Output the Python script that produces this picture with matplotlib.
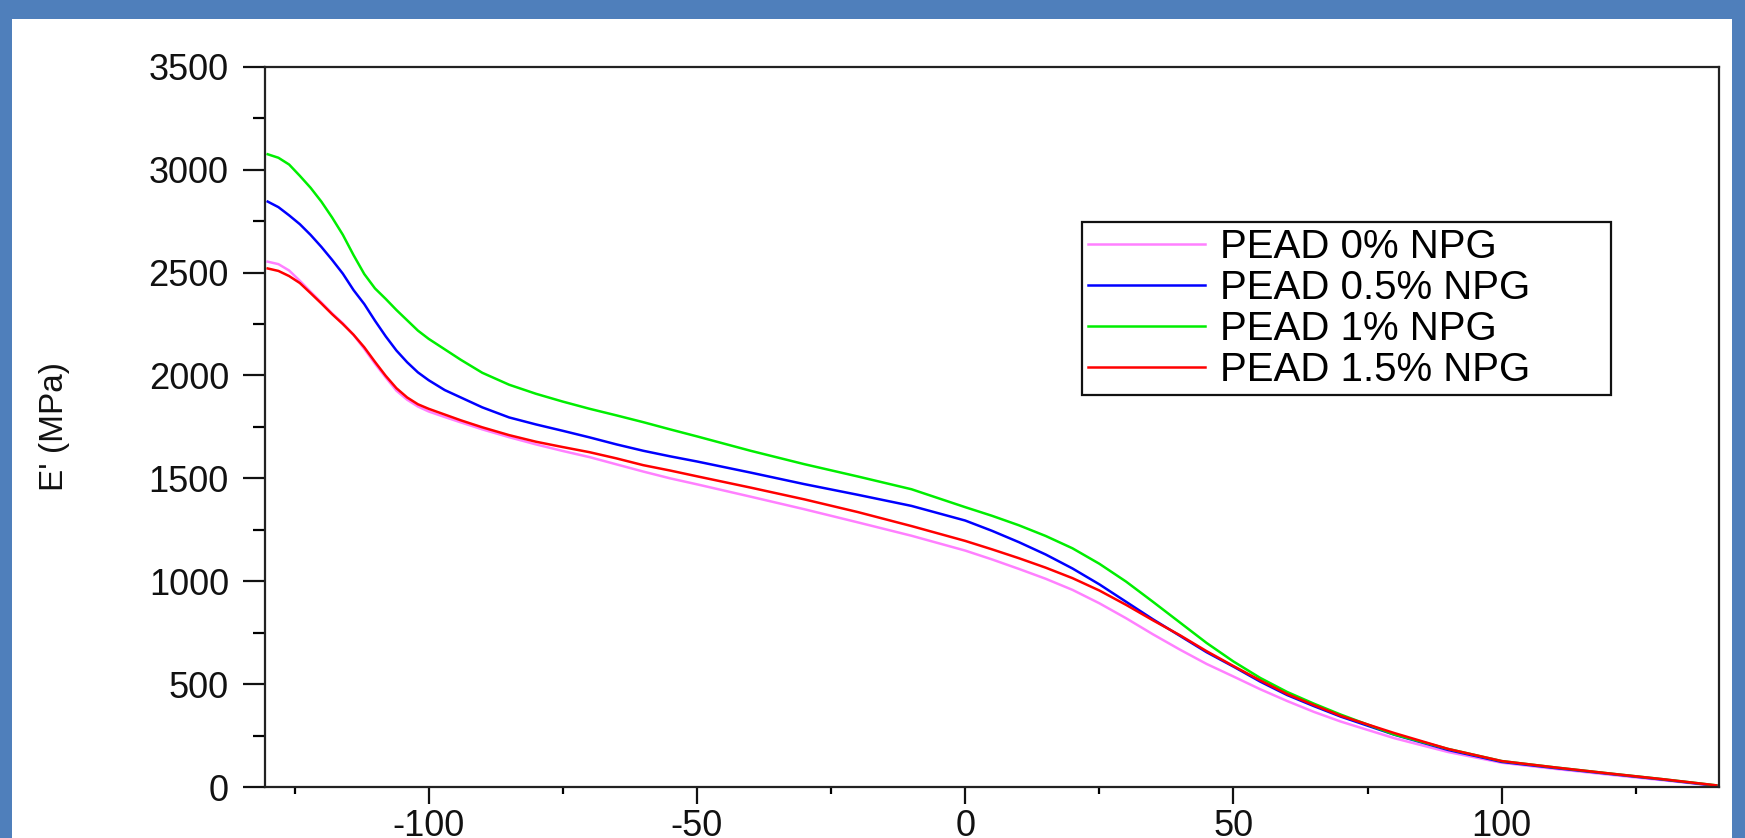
#!/usr/bin/env python3
"""Storage modulus E' vs temperature for PEAD with NPG loadings."""
import matplotlib
matplotlib.use("Agg")
import matplotlib.pyplot as plt
from matplotlib.patches import Rectangle
from matplotlib.ticker import MultipleLocator

plt.rcParams["font.family"] = ["Liberation Sans", "DejaVu Sans"]
plt.rcParams["axes.unicode_minus"] = False

# temperature (°C)
TEMP = [-130, -128, -126, -124, -122, -120, -118, -116, -114, -112, -110,
        -108, -106, -104, -102, -100, -97, -94, -90, -85, -80, -75, -70,
        -65, -60, -55, -50, -40, -30, -20, -10, 0, 5, 10, 15, 20, 25, 30,
        35, 40, 45, 50, 55, 60, 65, 70, 80, 90, 100, 110, 120, 130, 140]

# E' (MPa)
E_0 = [2553, 2541, 2510, 2460, 2407, 2355, 2302, 2254, 2197, 2129, 2057,
       1990, 1926, 1882, 1849, 1825, 1798, 1772, 1738, 1700, 1665, 1633, 1603,
       1568, 1533, 1500, 1471, 1411, 1350, 1286, 1221, 1149, 1106, 1060, 1012,
       958, 893, 820, 742, 668, 598, 537, 475, 418, 365, 318, 237, 170, 118,
       88, 60, 33, 5]
E_05 = [2845, 2818, 2778, 2735, 2683, 2625, 2562, 2495, 2415, 2347, 2266,
        2190, 2121, 2064, 2015, 1977, 1929, 1893, 1845, 1796, 1762, 1731, 1699,
        1665, 1634, 1607, 1582, 1528, 1472, 1420, 1366, 1295, 1245, 1190, 1130,
        1062, 985, 900, 815, 735, 655, 585, 512, 447, 393, 342, 254, 180, 122,
        92, 64, 36, 6]
E_1 = [3075, 3058, 3025, 2970, 2912, 2845, 2768, 2684, 2585, 2493, 2423,
       2372, 2318, 2268, 2218, 2178, 2127, 2076, 2013, 1955, 1911, 1873, 1838,
       1806, 1773, 1738, 1704, 1634, 1569, 1509, 1447, 1360, 1318, 1272, 1220,
       1160, 1085, 998, 900, 800, 700, 610, 530, 462, 405, 352, 255, 185, 126,
       95, 66, 38, 8]
E_15 = [2520, 2508, 2483, 2449, 2400, 2350, 2298, 2250, 2198, 2137, 2066,
        1998, 1938, 1893, 1860, 1838, 1810, 1782, 1748, 1710, 1678, 1652, 1627,
        1597, 1564, 1538, 1510, 1455, 1398, 1336, 1268, 1196, 1155, 1112, 1066,
        1015, 955, 885, 810, 738, 660, 588, 518, 452, 398, 346, 262, 185, 126,
        95, 66, 38, 8]

SERIES = [E_0, E_05, E_1, E_15]
LABELS = ["PEAD 0% NPG", "PEAD 0.5% NPG", "PEAD 1% NPG", "PEAD 1.5% NPG"]
COLORS = ["#ff80ff", "#0000ff", "#00ee00", "#ff0000"]


def main():
    fig = plt.figure(figsize=(17.45, 8.38), dpi=100)
    fig.patch.set_facecolor("#4f7fbb")
    # white panel inside the blue frame (drawn behind the axes)
    fig.patches.append(Rectangle((12 / 1745, 0), 1720 / 1745, 819 / 838,
                                 transform=fig.transFigure, facecolor="white",
                                 edgecolor="none", zorder=-10))

    ax = fig.add_axes([265 / 1745, 51 / 838, 1454 / 1745, 720.2 / 838])
    ax.set_zorder(5)
    for y, lab, col in zip(SERIES, LABELS, COLORS):
        ax.plot(TEMP, y, color=col, lw=1.8, label=lab)

    ax.set_xlim(-130.5, 140.5)
    ax.set_ylim(0, 3500)
    ax.xaxis.set_major_locator(MultipleLocator(50))
    ax.xaxis.set_minor_locator(MultipleLocator(25))
    ax.yaxis.set_major_locator(MultipleLocator(500))
    ax.yaxis.set_minor_locator(MultipleLocator(250))

    ax.tick_params(axis="y", which="major", direction="out", length=16,
                   width=1.6, pad=10, labelsize=26, colors="#111111")
    ax.tick_params(axis="y", which="minor", direction="out", length=8.5,
                   width=1.6)
    ax.tick_params(axis="x", which="major", direction="out", length=12,
                   width=1.6, pad=4, labelsize=26, colors="#111111")
    ax.tick_params(axis="x", which="minor", direction="out", length=5,
                   width=1.6)
    for s in ax.spines.values():
        s.set_linewidth(1.6)
        s.set_color("#222222")

    ax.set_ylabel("E' (MPa)", fontsize=24, color="#111111")
    ax.yaxis.set_label_coords(-0.134, 0.5)

    leg = ax.legend(loc="upper left",
                    bbox_to_anchor=(0.5619, 0.5512, 0.3638, 0.2333),
                    mode="expand", borderaxespad=0, fontsize=29,
                    handlelength=2.9, handletextpad=0.37, labelspacing=0.07,
                    borderpad=0.16, fancybox=False, framealpha=1)
    leg.get_frame().set_edgecolor("#111111")
    leg.get_frame().set_linewidth(1.6)

    fig.savefig("out.png", dpi=100, facecolor=fig.get_facecolor())


if __name__ == "__main__":
    main()
